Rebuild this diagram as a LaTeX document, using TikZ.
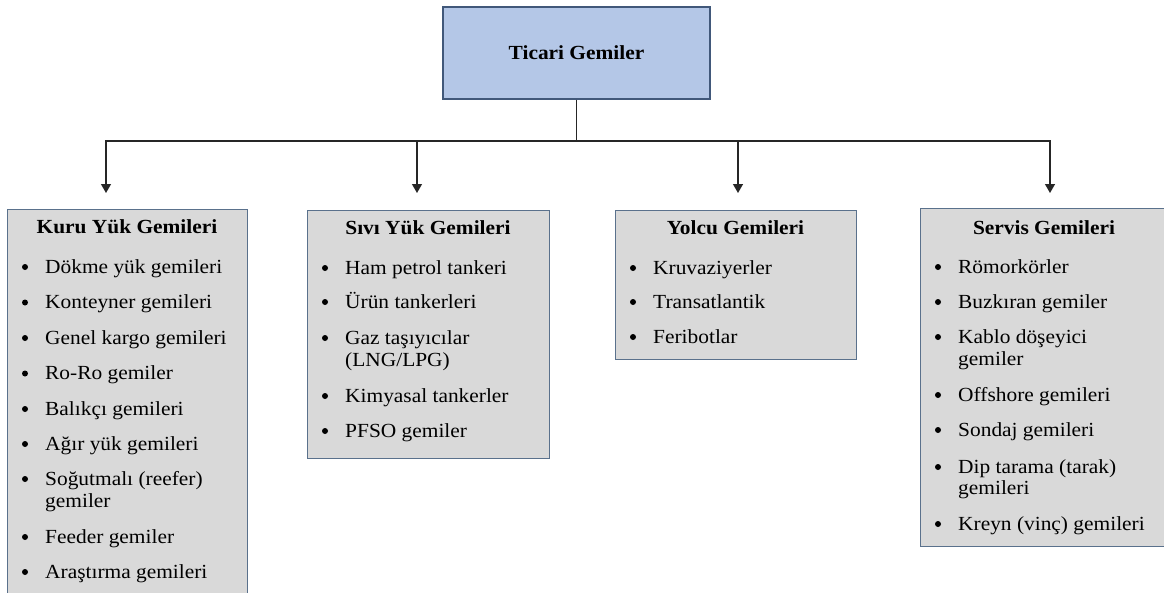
\documentclass[tikz,border=0pt]{standalone}
\usepackage{fontspec}
\setmainfont{Liberation Serif}[FakeStretch=1.07]
\usetikzlibrary{arrows.meta}

\definecolor{rootfill}{HTML}{B4C7E7}
\definecolor{rootdraw}{HTML}{41587A}
\definecolor{catfill}{HTML}{D9D9D9}
\definecolor{catdraw}{HTML}{5A718C}
\definecolor{wirecol}{HTML}{262626}

\newcommand\diagfont{\fontsize{20}{22}\selectfont}

\tikzset{
  rootbox/.style={draw=rootdraw, fill=rootfill, line width=1.2pt, inner sep=0pt,
    minimum width=267pt, minimum height=92pt, font=\diagfont\bfseries},
  catbox/.style={draw=catdraw, fill=catfill, line width=1.2pt, inner sep=0pt,
    anchor=north west},
  cattitle/.style={anchor=base, inner sep=0pt, font=\diagfont\bfseries},
  item/.style={anchor=base west, inner sep=0pt, font=\diagfont},
  wire/.style={draw=wirecol, line width=1.3pt},
  feed/.style={wire, -{Triangle[width=10pt,length=9pt]}},
}

% bulleted entry: name, x of text, baseline y, text
\newcommand\listentry[4]{%
  \fill[black] ({#2-20},{#3-6}) circle (3pt);
  \node[item] (#1) at (#2,#3) {#4};}
% continuation line of a wrapped entry
\newcommand\listwrap[4]{\node[item] (#1) at (#2,#3) {#4};}

\begin{document}
\begin{tikzpicture}[x=1pt, y=-1pt]
  \useasboundingbox (0,0) rectangle (1164,592);
  \clip (0,0) rectangle (1164,592);

  % root
  \node[rootbox] (root) at (576.5,53) {Ticari Gemiler};

  % category boxes
  \node[catbox, minimum width=240pt, minimum height=395pt] (kuru)   at (7,209)   {};
  \node[catbox, minimum width=242pt, minimum height=248pt] (sivi)   at (307,210) {};
  \node[catbox, minimum width=241pt, minimum height=149pt] (yolcu)  at (615,210) {};
  \node[catbox, minimum width=256pt, minimum height=338pt] (servis) at (920,208) {};

  % connectors
  \coordinate (hub) at (576.5,141);
  \coordinate (tipK) at (106,193);
  \coordinate (tipS) at (417,193);
  \coordinate (tipY) at (738,193);
  \coordinate (tipV) at (1050,193);
  \draw[wire] (root.south) -- (hub);
  \draw[feed] (hub) -| (tipK);
  \draw[feed] (hub) -| (tipS);
  \draw[feed] (hub) -| (tipY);
  \draw[feed] (hub) -| (tipV);

  % Kuru Yük Gemileri
  \node[cattitle] (kuruT) at (127,233) {Kuru Yük Gemileri};
  \listentry{k1}{45}{273}{Dökme yük gemileri}
  \listentry{k2}{45}{308.5}{Konteyner gemileri}
  \listentry{k3}{45}{344}{Genel kargo gemileri}
  \listentry{k4}{45}{379.5}{Ro-Ro gemiler}
  \listentry{k5}{45}{415}{Balıkçı gemileri}
  \listentry{k6}{45}{450}{Ağır yük gemileri}
  \listentry{k7}{45}{485}{Soğutmalı (reefer)}
  \listwrap{k7b}{45}{507}{gemiler}
  \listentry{k8}{45}{543}{Feeder gemiler}
  \listentry{k9}{45}{578}{Araştırma gemileri}

  % Sıvı Yük Gemileri
  \node[cattitle] (siviT) at (428,234) {Sıvı Yük Gemileri};
  \listentry{s1}{345}{274}{Ham petrol tankeri}
  \listentry{s2}{345}{308}{Ürün tankerleri}
  \listentry{s3}{345}{344}{Gaz taşıyıcılar}
  \listwrap{s3b}{345}{366}{(LNG/LPG)}
  \listentry{s4}{345}{402}{Kimyasal tankerler}
  \listentry{s5}{345}{437}{PFSO gemiler}

  % Yolcu Gemileri
  \node[cattitle] (yolcuT) at (735.5,234) {Yolcu Gemileri};
  \listentry{y1}{653}{274}{Kruvaziyerler}
  \listentry{y2}{653}{308}{Transatlantik}
  \listentry{y3}{653}{343}{Feribotlar}

  % Servis Gemileri
  \node[cattitle] (servisT) at (1044,234) {Servis Gemileri};
  \listentry{v1}{958}{273}{Römorkörler}
  \listentry{v2}{958}{308}{Buzkıran gemiler}
  \listentry{v3}{958}{343}{Kablo döşeyici}
  \listwrap{v3b}{958}{365}{gemiler}
  \listentry{v4}{958}{401}{Offshore gemileri}
  \listentry{v5}{958}{436}{Sondaj gemileri}
  \listentry{v6}{958}{473}{Dip tarama (tarak)}
  \listwrap{v6b}{958}{494}{gemileri}
  \listentry{v7}{958}{530}{Kreyn (vinç) gemileri}
\end{tikzpicture}
\end{document}
